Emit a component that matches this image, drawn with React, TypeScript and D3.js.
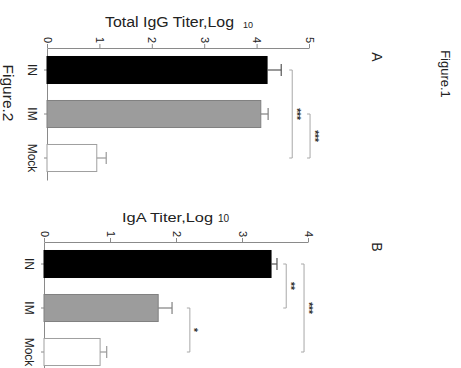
import React, { useRef, useEffect } from "react";
import * as d3 from "d3";

const groups = ["IN", "IM", "Mock"];
const iggMean = [4.2, 4.08, 0.95];
const iggErr = [0.27, 0.14, 0.18];
const igaMean = [3.44, 1.73, 0.85];
const igaErr = [0.09, 0.21, 0.1];
const iggTicks = [0, 1, 2, 3, 4, 5];
const igaTicks = [0, 1, 2, 3, 4];
const iggSig = [
  { from: "IN", to: "Mock", at: 4.68, label: "***" },
  { from: "IM", to: "Mock", at: 5.02, label: "***" },
];
const igaSig = [
  { from: "IN", to: "IM", at: 3.67, label: "**" },
  { from: "IN", to: "Mock", at: 3.94, label: "***" },
  { from: "IM", to: "Mock", at: 2.21, label: "*" },
];

const fills = ["#000000", "#9c9c9c", "#ffffff"];
const strokes = ["#000000", "#808080", "#a0a0a0"];
const errColors = ["#555555", "#808080", "#999999"];
const FONT = "'Liberation Sans', Arial, sans-serif";

function drawPanel(svg, cfg) {
  const x = d3.scaleLinear().domain([0, cfg.max]).range(cfg.xRange);
  const y = d3
    .scaleBand()
    .domain(groups)
    .range(cfg.yRange)
    .paddingInner(0.386)
    .paddingOuter(0.193);
  const g = svg.append("g");

  // value axis on top, ticks pointing up, labels turned 90deg
  const xAxis = d3
    .axisTop(x)
    .tickValues(cfg.ticks)
    .tickSize(4)
    .tickSizeOuter(0)
    .tickFormat(d3.format("d"));
  const ax = g
    .append("g")
    .attr("transform", `translate(0,${cfg.yRange[0]})`)
    .call(xAxis)
    .attr("font-family", FONT)
    .attr("font-size", 11);
  ax.select(".domain").attr("stroke", "#8a8a8a");
  ax.selectAll(".tick line").attr("stroke", "#8a8a8a");
  ax.selectAll(".tick text")
    .attr("x", 0)
    .attr("y", 0)
    .attr("dy", null)
    .attr("fill", "#222")
    .attr("text-anchor", "middle")
    .attr("dominant-baseline", "central")
    .attr("transform", "translate(0,-8) rotate(90)");

  // category axis on the left
  const yAxis = d3.axisLeft(y).tickSize(3).tickSizeOuter(0);
  const ay = g
    .append("g")
    .attr("transform", `translate(${cfg.xRange[0]},0)`)
    .call(yAxis)
    .attr("font-family", FONT)
    .attr("font-size", 12);
  ay.select(".domain").attr("stroke", "#8a8a8a");
  ay.selectAll(".tick line").attr("stroke", "#8a8a8a");
  ay.selectAll(".tick text")
    .attr("x", 0)
    .attr("y", 0)
    .attr("dy", null)
    .attr("fill", "#222")
    .attr("text-anchor", "middle")
    .attr("dominant-baseline", "central")
    .attr("transform", "translate(-15,0) rotate(90)");

  // bars
  g.selectAll(".bar")
    .data(cfg.mean)
    .join("rect")
    .attr("class", "bar")
    .attr("x", x(0))
    .attr("y", (d, i) => y(groups[i]))
    .attr("width", (d) => x(d) - x(0))
    .attr("height", y.bandwidth())
    .attr("fill", (d, i) => fills[i])
    .attr("stroke", (d, i) => strokes[i]);

  // error bars
  const eb = g
    .selectAll(".err")
    .data(cfg.mean)
    .join("g")
    .attr("class", "err")
    .attr("stroke", (d, i) => errColors[i])
    .attr("stroke-width", 1.2);
  eb.append("line")
    .attr("x1", (d) => x(d))
    .attr("x2", (d, i) => x(d + cfg.err[i]))
    .attr("y1", (d, i) => y(groups[i]) + y.bandwidth() / 2)
    .attr("y2", (d, i) => y(groups[i]) + y.bandwidth() / 2);
  eb.append("line")
    .attr("x1", (d, i) => x(d + cfg.err[i]))
    .attr("x2", (d, i) => x(d + cfg.err[i]))
    .attr("y1", (d, i) => y(groups[i]) + y.bandwidth() / 2 - 6)
    .attr("y2", (d, i) => y(groups[i]) + y.bandwidth() / 2 + 6);

  // significance brackets
  const mid = (c) => y(c) + y.bandwidth() / 2;
  const br = g.selectAll(".sig").data(cfg.sig).join("g").attr("class", "sig");
  br.append("path")
    .attr("fill", "none")
    .attr("stroke", "#a8a8a8")
    .attr(
      "d",
      (s) => `M${x(s.at) - 3},${mid(s.from)}H${x(s.at)}V${mid(s.to)}H${x(s.at) - 3}`
    );
  br.append("text")
    .text((s) => s.label)
    .attr("font-family", FONT)
    .attr("font-size", 10)
    .attr("font-weight", "bold")
    .attr("fill", "#333")
    .attr("text-anchor", "middle")
    .attr("dominant-baseline", "central")
    .attr(
      "transform",
      (s) => `translate(${x(s.at) + 4},${(mid(s.from) + mid(s.to)) / 2}) rotate(90)`
    );
}

export default function App() {
  const svgRef = useRef(null);

  useEffect(() => {
    const svg = d3.select(svgRef.current);
    svg.select(".panels").remove();
    const root = svg.append("g").attr("class", "panels");
    drawPanel(root, {
      max: 5,
      xRange: [47, 309],
      yRange: [48, 180],
      ticks: iggTicks,
      mean: iggMean,
      err: iggErr,
      sig: iggSig,
    });
    drawPanel(root, {
      max: 4,
      xRange: [44, 308],
      yRange: [242, 374],
      ticks: igaTicks,
      mean: igaMean,
      err: igaErr,
      sig: igaSig,
    });
  }, []);

  const txt = { fontFamily: FONT, fill: "#222" };

  return (
    <svg
      ref={svgRef}
      width={461}
      height={368}
      style={{ position: "absolute", left: 0, top: 0, background: "#fff" }}
    >
      <rect width={461} height={368} fill="#fff" />
      <text x={105} y={27} fontSize={14} textLength={129} lengthAdjust="spacingAndGlyphs" style={txt}>
        Total IgG Titer,Log
      </text>
      <text x={243} y={28} fontSize={9} style={txt}>
        10
      </text>
      <text x={122} y={222} fontSize={13} textLength={91} lengthAdjust="spacingAndGlyphs" style={txt}>
        IgA Titer,Log
      </text>
      <text x={218} y={222} fontSize={10} style={txt}>
        10
      </text>
      <text
        transform="translate(8,93) rotate(90)"
        fontSize={14}
        textAnchor="middle"
        dominantBaseline="central"
        textLength={57}
        lengthAdjust="spacingAndGlyphs"
        style={txt}
      >
        Figure.2
      </text>
      <text
        transform="translate(445,74) rotate(90)"
        fontSize={13}
        textAnchor="middle"
        dominantBaseline="central"
        style={txt}
      >
        Figure.1
      </text>
      <text transform="translate(377,57) rotate(90)" fontSize={14} textAnchor="middle" dominantBaseline="central" style={txt}>
        A
      </text>
      <text transform="translate(377,247) rotate(90)" fontSize={14} textAnchor="middle" dominantBaseline="central" style={txt}>
        B
      </text>
    </svg>
  );
}
